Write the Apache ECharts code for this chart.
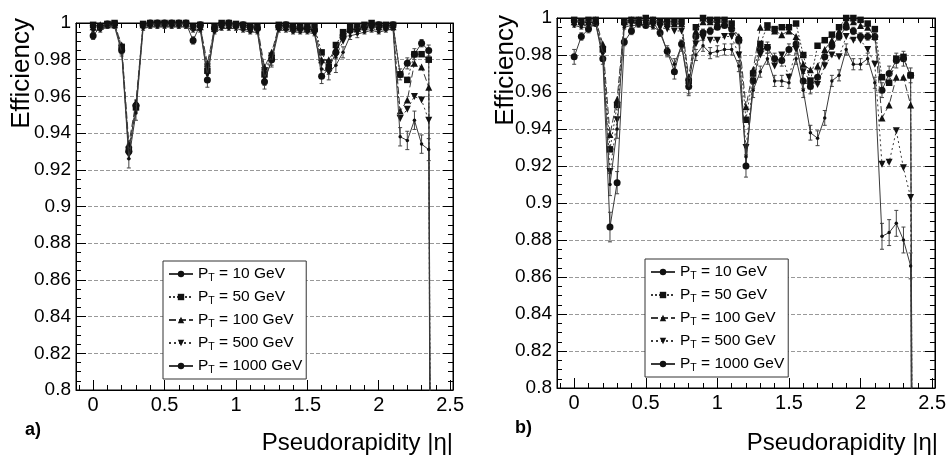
<!DOCTYPE html>
<html><head><meta charset="utf-8">
<script src="https://cdn.jsdelivr.net/npm/echarts@6/dist/echarts.min.js"></script>
<style>html,body{margin:0;padding:0;background:#fff}#c{width:949px;height:457px}</style>
</head><body><div id="c"></div>
<script>
const eta = [0,0.05,0.1,0.15,0.2,0.25,0.3,0.35,0.4,0.45,
  0.5,0.55,0.6,0.65,0.7,0.75,0.8,0.85,0.9,0.95,
  1.0,1.05,1.1,1.15,1.2,1.25,1.3,1.35,1.4,1.45,
  1.5,1.55,1.6,1.65,1.7,1.75,1.8,1.85,1.9,1.95,
  2.0,2.05,2.1,2.15,2.2,2.25,2.3,2.35,2.4];
const ptLabels = ['10','50','100','500','1000'];
const xTickLabels = [0,0.5,1,1.5,2,2.5];
const xMinorTicks = [-0.1,0.1,0.2,0.3,0.4,0.6,0.7,0.8,0.9,1.1,1.2,1.3,1.4,1.6,1.7,1.8,1.9,2.1,2.2,2.3,2.4];

// panel a)
const a10 = [0.993,0.998,0.9995,0.9995,0.985,0.930,0.955,0.999,1.000,1.000,
  1.000,1.000,1.000,1.000,0.9905,0.999,0.969,0.997,0.9995,1.000,
  0.999,0.999,0.998,0.997,0.968,0.980,0.998,0.999,0.997,0.997,
  0.997,0.996,0.971,0.975,0.984,0.993,0.996,0.997,0.998,0.999,
  0.999,0.998,0.999,0.972,0.978,0.983,0.989,0.985,0];
const a50 = [0.999,0.998,0.9995,1.000,0.987,0.931,0.954,0.9995,1.000,1.000,
  1.000,1.000,1.000,1.000,0.998,0.999,0.974,0.998,1.000,1.000,
  0.9995,0.999,0.998,0.998,0.972,0.981,0.999,0.999,0.998,0.998,
  0.998,0.998,0.984,0.976,0.988,0.995,0.998,0.998,0.999,1.000,
  0.999,0.999,0.999,0.972,0.969,0.983,0.983,0.980,0];
const a100 = [0.998,0.999,0.999,0.999,0.988,0.934,0.957,0.999,0.9995,0.9995,
  0.9995,0.9995,0.9995,0.9995,0.998,0.998,0.978,0.997,0.999,0.999,
  0.999,0.998,0.997,0.998,0.976,0.984,0.998,0.998,0.997,0.998,
  0.997,0.997,0.980,0.980,0.986,0.994,0.997,0.997,0.998,0.999,
  0.998,0.998,0.998,0.952,0.958,0.978,0.976,0.965,0];
const a500 = [0.997,0.997,0.999,0.999,0.986,0.928,0.953,0.998,0.999,0.999,
  0.999,0.999,0.999,0.999,0.997,0.997,0.976,0.996,0.998,0.998,
  0.998,0.997,0.996,0.996,0.974,0.982,0.997,0.997,0.996,0.996,
  0.996,0.995,0.978,0.978,0.982,0.990,0.995,0.995,0.996,0.997,
  0.996,0.997,0.998,0.948,0.953,0.960,0.958,0.947,0];
const a1000 = [0.996,0.996,0.998,0.998,0.984,0.926,0.951,0.997,0.998,0.998,
  0.998,0.998,0.998,0.998,0.996,0.996,0.972,0.995,0.997,0.997,
  0.997,0.996,0.995,0.995,0.970,0.979,0.996,0.996,0.995,0.995,
  0.995,0.994,0.975,0.973,0.977,0.984,0.993,0.994,0.995,0.996,
  0.995,0.996,0.997,0.938,0.936,0.947,0.934,0.931,0];
// statistical errors (10 GeV and 1000 GeV)
const a10Err = [0.002,0.001,0.001,0.001,0.002,0.004,0.003,0.001,0.001,0.001,
  0.001,0.001,0.001,0.001,0.002,0.001,0.004,0.001,0.001,0.001,
  0.001,0.001,0.001,0.001,0.004,0.003,0.001,0.001,0.001,0.001,
  0.001,0.001,0.004,0.003,0.003,0.002,0.001,0.001,0.001,0.001,
  0.001,0.001,0.001,0.003,0.003,0.003,0.002,0.003,0];
const a1000Err = [0.001,0.001,0.001,0.001,0.002,0.005,0.004,0.001,0.001,0.001,
  0.001,0.001,0.001,0.001,0.001,0.001,0.004,0.001,0.001,0.001,
  0.001,0.001,0.001,0.001,0.004,0.003,0.001,0.001,0.001,0.001,
  0.001,0.001,0.004,0.004,0.004,0.003,0.002,0.002,0.001,0.001,
  0.001,0.001,0.001,0.005,0.005,0.005,0.005,0.006,0];

// panel b)
const b10 = [0.979,0.990,0.994,0.997,0.978,0.887,0.911,0.987,0.993,0.997,
  0.996,0.998,0.992,0.982,0.971,0.986,0.963,0.990,0.992,0.993,
  0.995,0.996,0.994,0.988,0.920,0.966,0.983,0.984,0.978,0.977,
  0.983,0.986,0.966,0.963,0.968,0.979,0.985,0.990,0.995,0.993,
  0.990,0.990,0.990,0.961,0.970,0.977,0.978,0.969,0];
const b50 = [0.999,0.998,0.999,0.999,0.983,0.929,0.953,0.998,0.999,0.999,
  1.000,0.999,0.998,0.998,0.998,0.998,0.966,0.995,1.000,0.999,
  0.999,0.999,0.997,0.988,0.945,0.970,0.986,0.996,0.994,0.995,
  0.995,0.997,0.980,0.966,0.985,0.988,0.991,0.995,1.000,1.000,
  0.999,0.997,0.994,0.968,0.965,0.978,0.979,0.969,0];
const b100 = [0.998,0.998,0.998,0.999,0.986,0.937,0.956,0.998,0.999,0.999,
  0.999,0.999,0.998,0.997,0.997,0.997,0.968,0.993,0.998,0.998,
  0.998,0.998,0.996,0.990,0.952,0.972,0.995,0.995,0.993,0.991,
  0.993,0.990,0.975,0.972,0.974,0.983,0.988,0.993,0.998,0.998,
  0.996,0.995,0.990,0.946,0.953,0.968,0.968,0.953,0];
const b500 = [0.997,0.996,0.996,0.998,0.983,0.917,0.945,0.996,0.997,0.997,
  0.997,0.996,0.995,0.994,0.993,0.993,0.965,0.986,0.989,0.988,
  0.988,0.990,0.990,0.980,0.930,0.966,0.980,0.984,0.974,0.980,
  0.968,0.983,0.971,0.966,0.964,0.974,0.980,0.979,0.990,0.988,
  0.988,0.983,0.975,0.921,0.922,0.939,0.919,0.903,0];
const b1000 = [0.996,0.995,0.995,0.997,0.981,0.910,0.940,0.995,0.996,0.996,
  0.996,0.995,0.993,0.982,0.975,0.985,0.962,0.980,0.985,0.981,
  0.982,0.983,0.983,0.974,0.925,0.961,0.971,0.978,0.966,0.966,
  0.965,0.978,0.961,0.938,0.935,0.946,0.966,0.969,0.983,0.975,
  0.975,0.978,0.965,0.882,0.884,0.889,0.880,0.866,0];
const b10Err = [0.004,0.002,0.002,0.001,0.003,0.008,0.006,0.002,0.002,0.001,
  0.001,0.001,0.002,0.002,0.004,0.002,0.004,0.002,0.002,0.002,
  0.001,0.001,0.002,0.002,0.006,0.004,0.003,0.003,0.003,0.003,
  0.003,0.002,0.004,0.004,0.004,0.003,0.002,0.002,0.001,0.002,
  0.002,0.002,0.002,0.004,0.004,0.004,0.004,0.004,0];
const b1000Err = [0.001,0.001,0.001,0.001,0.002,0.006,0.005,0.001,0.001,0.001,
  0.001,0.001,0.002,0.003,0.003,0.003,0.004,0.003,0.003,0.003,
  0.003,0.003,0.003,0.003,0.005,0.004,0.003,0.003,0.003,0.003,
  0.003,0.003,0.004,0.004,0.004,0.004,0.003,0.003,0.003,0.003,
  0.003,0.003,0.003,0.007,0.007,0.007,0.007,0.007,0];

const panels = [
  {grid:{left:76, top:23, width:377, height:367}, data:[a10,a50,a100,a500,a1000], errs:[[0,a10Err],[4,a1000Err]], legend:{left:163, top:261}},
  {grid:{left:557, top:18, width:380, height:370}, data:[b10,b50,b100,b500,b1000], errs:[[0,b10Err],[4,b1000Err]], legend:{left:645, top:259}}
];
const styles = [
  {symbol:'circle', size:7, rot:0, dash:'solid'},
  {symbol:'rect', size:6.5, rot:0, dash:[2,2]},
  {symbol:'triangle', size:7, rot:0, dash:[7,3]},
  {symbol:'triangle', size:7, rot:180, dash:[2,3]},
  {symbol:'circle', size:3.5, rot:0, dash:'solid'}
];
const FONT = 'Liberation Sans, Arial, Helvetica, sans-serif';
const grids=[], xAxes=[], yAxes=[], series=[], legends=[];
panels.forEach((p,gi)=>{
  grids.push(Object.assign({show:true, borderColor:'#000', borderWidth:1, backgroundColor:'transparent'}, p.grid));
  const base = {type:'value', gridIndex:gi, min:-0.12, max:2.52, splitLine:{show:false}};
  const xi = xAxes.length;
  xAxes.push(Object.assign({}, base, {position:'bottom',
    axisLine:{show:true, onZero:false, lineStyle:{color:'#000'}},
    axisTick:{show:true, inside:true, length:10, customValues:xTickLabels, lineStyle:{color:'#000'}},
    axisLabel:{show:true, customValues:xTickLabels, fontSize:20, color:'#000', fontFamily:FONT, margin:5}}));
  xAxes.push(Object.assign({}, base, {position:'bottom',
    axisLine:{show:false}, axisLabel:{show:false},
    axisTick:{show:true, inside:true, length:5, customValues:xMinorTicks, lineStyle:{color:'#000'}}}));
  xAxes.push(Object.assign({}, base, {position:'top',
    axisLine:{show:true, onZero:false, lineStyle:{color:'#000'}}, axisLabel:{show:false},
    axisTick:{show:true, inside:true, length:10, customValues:xTickLabels, lineStyle:{color:'#000'}}}));
  xAxes.push(Object.assign({}, base, {position:'top',
    axisLine:{show:false}, axisLabel:{show:false},
    axisTick:{show:true, inside:true, length:5, customValues:xMinorTicks, lineStyle:{color:'#000'}}}));
  const yi = yAxes.length;
  const ybase = {type:'value', gridIndex:gi, min:0.8, max:1.0, interval:0.02};
  yAxes.push(Object.assign({}, ybase, {position:'left',
    axisLine:{show:true, onZero:false, lineStyle:{color:'#000'}},
    axisTick:{show:true, inside:true, length:10, lineStyle:{color:'#000'}},
    minorTick:{show:true, splitNumber:4, length:5, lineStyle:{color:'#000'}},
    axisLabel:{show:true, fontSize:19, color:'#000', fontFamily:FONT, margin:5, showMinLabel:true, showMaxLabel:true},
    splitLine:{show:true, lineStyle:{color:'#999', type:[4,2], width:1}}}));
  yAxes.push(Object.assign({}, ybase, {position:'right',
    axisLine:{show:true, onZero:false, lineStyle:{color:'#000'}},
    axisTick:{show:true, inside:true, length:10, lineStyle:{color:'#000'}},
    minorTick:{show:true, splitNumber:4, length:5, lineStyle:{color:'#000'}},
    axisLabel:{show:false}, splitLine:{show:false}}));
  p.errs.forEach(([si, errArr])=>{
    const vals = p.data[si];
    series.push({type:'custom', xAxisIndex:xi, yAxisIndex:yi, silent:true, animation:false, z:1, clip:true,
      data: eta.map((x,k)=>[x, vals[k], errArr[k]]),
      renderItem:(params, api)=>{
        const x = api.value(0), y = api.value(1), e = api.value(2);
        if (!e) return null;
        const lo = api.coord([x, y - e]), hi = api.coord([x, y + e]);
        const c = 2;
        return {type:'group', children:[
          {type:'line', shape:{x1:lo[0], y1:lo[1], x2:hi[0], y2:hi[1]}, style:{stroke:'#444', lineWidth:1}},
          {type:'line', shape:{x1:lo[0]-c, y1:lo[1], x2:lo[0]+c, y2:lo[1]}, style:{stroke:'#444', lineWidth:1}},
          {type:'line', shape:{x1:hi[0]-c, y1:hi[1], x2:hi[0]+c, y2:hi[1]}, style:{stroke:'#444', lineWidth:1}}
        ]};
      }});
  });
  p.data.forEach((vals,si)=>{
    const st = styles[si];
    series.push({type:'line', name:ptLabels[si], xAxisIndex:xi, yAxisIndex:yi,
      data: eta.map((x,k)=>[x, vals[k]]),
      symbol:st.symbol, symbolSize:st.size, symbolRotate:st.rot, showAllSymbol:true,
      clip:true, animation:false, z:2+si,
      lineStyle:{color:'#3a3a3a', width:1, type:st.dash},
      itemStyle:{color:'#111'}, emphasis:{disabled:true}});
  });
  legends.push({orient:'vertical', left:p.legend.left, top:p.legend.top,
    data:ptLabels, itemWidth:24, itemHeight:8, itemGap:3,
    padding:[3,4,3,5], borderColor:'#333', borderWidth:1, backgroundColor:'#fff',
    selectedMode:false,
    formatter: n => '{p|P}{t|T}{p| = ' + n + ' GeV}',
    textStyle:{color:'#000', fontFamily:FONT, fontSize:15.5, lineHeight:20,
      rich:{p:{fontSize:15.5, fontFamily:FONT, color:'#000', lineHeight:20},
            t:{fontSize:10.5, fontFamily:FONT, color:'#000', lineHeight:20, padding:[9,0,0,0]}}}});
});

const chart = echarts.init(document.getElementById('c'), null, {renderer:'canvas'});
chart.setOption({
  backgroundColor:'#fff', animation:false,
  grid:grids, xAxis:xAxes, yAxis:yAxes, series:series, legend:legends,
  graphic:[
    {type:'text', x:22, y:18, rotation:Math.PI/2, style:{text:'Efficiency', font:'26px '+FONT, fill:'#000', align:'right', verticalAlign:'middle'}},
    {type:'text', x:506, y:15, rotation:Math.PI/2, style:{text:'Efficiency', font:'26px '+FONT, fill:'#000', align:'right', verticalAlign:'middle'}},
    {type:'text', x:453, y:443, style:{text:'Pseudorapidity |η|', font:'24px '+FONT, fill:'#000', align:'right', verticalAlign:'middle'}},
    {type:'text', x:938, y:443, style:{text:'Pseudorapidity |η|', font:'24px '+FONT, fill:'#000', align:'right', verticalAlign:'middle'}},
    {type:'text', x:25, y:430, style:{text:'a)', font:'bold 18px '+FONT, fill:'#000', align:'left', verticalAlign:'middle'}},
    {type:'text', x:515, y:428, style:{text:'b)', font:'bold 18px '+FONT, fill:'#000', align:'left', verticalAlign:'middle'}}
  ]
});
</script></body></html>
